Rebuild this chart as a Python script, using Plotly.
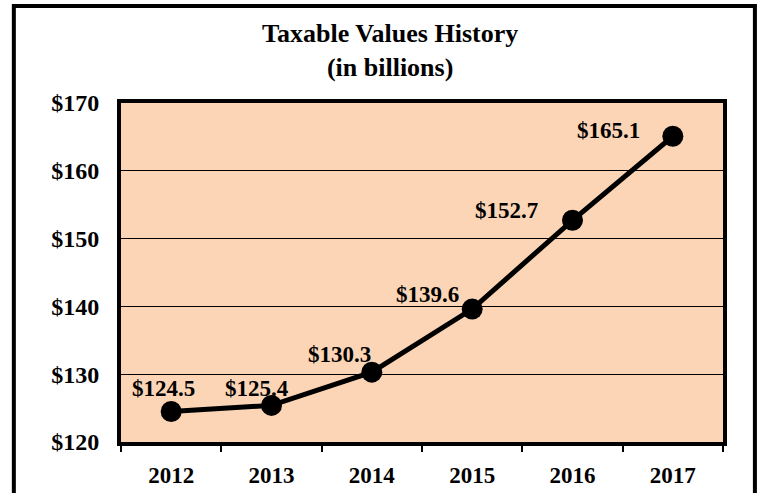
import plotly.graph_objects as go

years = ["2012", "2013", "2014", "2015", "2016", "2017"]
values = [124.5, 125.4, 130.3, 139.6, 152.7, 165.1]
value_labels = ["$124.5", "$125.4", "$130.3", "$139.6", "$152.7", "$165.1"]
y_ticks = [120, 130, 140, 150, 160, 170]
y_tick_labels = ["$120", "$130", "$140", "$150", "$160", "$170"]

# label offsets in pixels (style only)
label_dx = [-8, -15, -32, -45, -66, -64]
label_dy = [23, 17, 18, 15, 10, 6]

FONT = "Liberation Serif"

fig = go.Figure()
fig.add_trace(go.Scatter(
    x=years, y=values, mode="lines+markers",
    line=dict(color="black", width=5),
    marker=dict(color="black", size=21),
    hoverinfo="skip", showlegend=False,
))

for i, (v, t, dx, dy) in enumerate(zip(values, value_labels, label_dx, label_dy)):
    fig.add_annotation(x=i, y=v, xref="x", yref="y", text=t, showarrow=False,
                       xshift=dx, yshift=dy,
                       font=dict(family=FONT, size=23, color="black", weight="bold"))

# outer chart border
fig.add_shape(type="rect", xref="paper", yref="paper",
              x0=-0.178, x1=1.053, y0=-0.3, y1=1.286,
              line=dict(color="black", width=4), layer="above")

fig.update_layout(
    width=759, height=493,
    margin=dict(l=121, r=36, t=103, b=51, autoexpand=False),
    paper_bgcolor="white",
    plot_bgcolor="#FBD5B5",
    title=dict(text="Taxable Values History<br>(in billions)",
               x=0.514, xref="container", xanchor="center",
               y=1 - 42 / 493, yref="container", yanchor="top",
               font=dict(family=FONT, size=26, color="black", weight="bold")),
    xaxis=dict(
        type="category", range=[-0.5, 5.5], automargin=False,
        showline=True, linecolor="black", linewidth=4, mirror=True,
        ticks="outside", tickson="boundaries", ticklen=6, tickwidth=2, tickcolor="black",
        showgrid=False, ticklabelstandoff=9,
        tickfont=dict(family=FONT, size=23, color="black", weight="bold"),
    ),
    yaxis=dict(
        range=[120, 170], tickvals=y_ticks, ticktext=y_tick_labels, automargin=False,
        showline=True, linecolor="black", linewidth=4, mirror=True,
        ticks="", showgrid=True, gridcolor="black", gridwidth=1,
        zeroline=False, ticklabelstandoff=13,
        tickfont=dict(family=FONT, size=24, color="black", weight="bold"),
    ),
)

fig.write_html("out.html", config={"displayModeBar": False},
               post_script="document.body.style.margin='0';")
